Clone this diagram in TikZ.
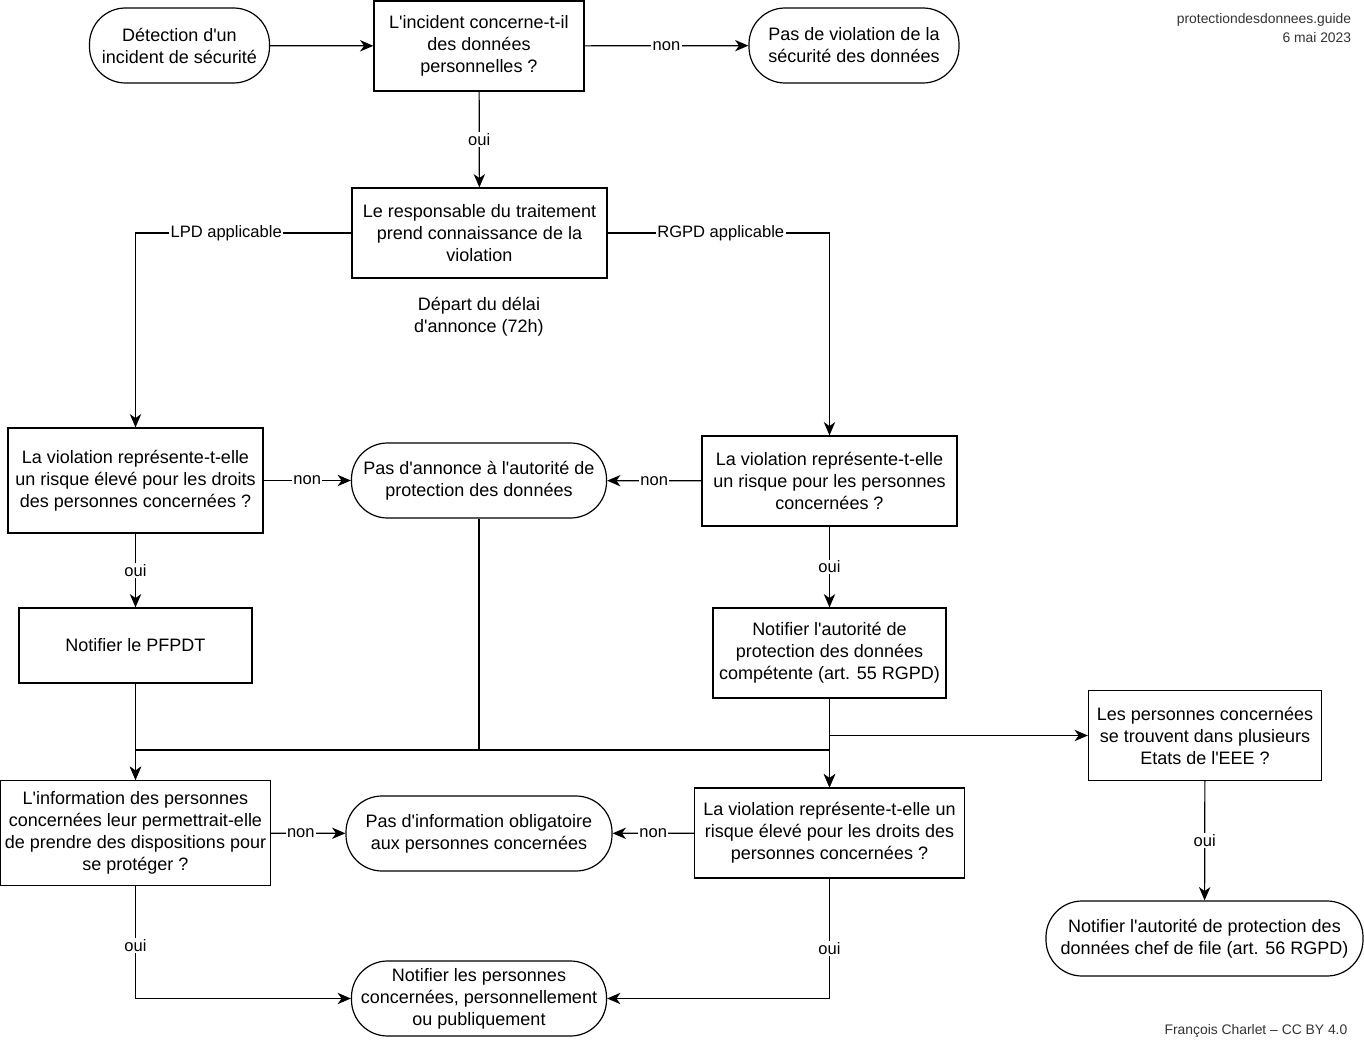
\documentclass[tikz,border=0pt]{standalone}
\usepackage{fontspec}
\setmainfont{Liberation Sans}[Ligatures=TeXOff]
\usetikzlibrary{arrows.meta}
\begin{document}
\begin{tikzpicture}[x=0.75pt,y=-0.75pt,
  base/.style={draw, line width=0.9pt, align=center, inner sep=0pt, font=\fontsize{13.5}{16.5}\selectfont},
  proc/.style={base, rectangle},
  term/.style={base, rectangle, rounded corners=27pt},
  lbl/.style={fill=white, inner sep=1pt, font=\fontsize{12.4}{14}\selectfont},
  arr/.style={line width=0.9pt, -{Stealth[length=10pt,width=8.5pt,inset=3pt]}},
  conn/.style={line width=0.9pt},
  note/.style={align=right, text=black!80, font=\fontsize{10.4}{14.5}\selectfont}]
\useasboundingbox (0,0) rectangle (1364,1049);

% nodes
\node[term, minimum width=135pt, minimum height=56.25pt] (det) at (179.5,45.5) {Détection d'un\\incident de sécurité};
\node[proc, minimum width=157.5pt, minimum height=67.5pt] (q1) at (479,46) {L'incident concerne-t-il\\des données\\personnelles ?};
\node[term, minimum width=157.5pt, minimum height=56.25pt] (nov) at (854,45.5) {Pas de violation de la\\sécurité des données};
\node[proc, minimum width=191.25pt, minimum height=67.5pt] (resp) at (479.5,233) {Le responsable du traitement\\prend connaissance de la\\violation};
\node[align=center, font=\fontsize{13.5}{16.5}\selectfont] (dep) at (479,317) {Départ du délai\\d'annonce (72h)};
\node[proc, minimum width=191.25pt, minimum height=78.75pt] (q2) at (135.5,480.5) {La violation représente-t-elle\\un risque élevé pour les droits\\des personnes concernées ?};
\node[term, minimum width=191.25pt, minimum height=56.25pt] (noann) at (479,480.5) {Pas d'annonce à l'autorité de\\protection des données};
\node[proc, minimum width=191.25pt, minimum height=67.5pt] (q3) at (829.5,481) {La violation représente-t-elle\\un risque pour les personnes\\concernées ?};
\node[proc, minimum width=174.75pt, minimum height=56.25pt] (pfpdt) at (135.5,645.5) {Notifier le PFPDT};
\node[proc, minimum width=174.75pt, minimum height=67.5pt] (notaut) at (829.5,653) {Notifier l'autorité de\\protection des données\\compétente (art. 55 RGPD)};
\node[proc, minimum width=174.75pt, minimum height=67.5pt] (eee) at (1205,735.5) {Les personnes concernées\\se trouvent dans plusieurs\\Etats de l'EEE ?};
\node[proc, minimum width=202.5pt, minimum height=78.75pt] (q4) at (135.5,833) {L'information des personnes\\concernées leur permettrait-elle\\de prendre des dispositions pour\\se protéger ?};
\node[term, minimum width=199.5pt, minimum height=56.25pt] (noinfo) at (479,833.5) {Pas d'information obligatoire\\aux personnes concernées};
\node[proc, minimum width=202.5pt, minimum height=67.5pt] (q5) at (829.5,833) {La violation représente-t-elle un\\risque élevé pour les droits des\\personnes concernées ?};
\node[term, minimum width=191.25pt, minimum height=56.25pt] (notpers) at (479,998.5) {Notifier les personnes\\concernées, personnellement\\ou publiquement};
\node[term, minimum width=237.75pt, minimum height=56.25pt] (chef) at (1204.5,938.5) {Notifier l'autorité de protection des\\données chef de file (art. 56 RGPD)};

\node[note] (hdr) at (1264,28) {protectiondesdonnees.guide\\6 mai 2023};
\node[note, anchor=east] (ftr) at (1352,1031) {François Charlet – CC BY 4.0};

% junctions
\coordinate (j1) at (479,750);

% connectors
\draw[arr] (det) -- (q1);
\draw[arr] (q1) -- node[lbl] {non} (nov);
\draw[arr] (q1) -- node[lbl] {oui} (resp);
\draw[arr] (resp.west) -| node[lbl, pos=0.29] {LPD applicable} (q2.north);
\draw[arr] (resp.east) -| node[lbl, pos=0.255] {RGPD applicable} (q3.north);
\draw[arr] (q2) -- node[lbl] {non} (noann);
\draw[arr] (q3) -- node[lbl] {non} (noann);
\draw[arr] (q2) -- node[lbl] {oui} (pfpdt);
\draw[arr] (q3) -- node[lbl] {oui} (notaut);
\draw[arr] (pfpdt) -- (q4);
\draw[arr] (noann.south) -- (j1) -| (q4.north);
\draw[arr] (j1) -| (q5.north);
\draw[arr] (notaut) -- (q5);
\draw[arr] (notaut.south) |- (eee.west);
\draw[arr] (q4) -- node[lbl, pos=0.4] {non} (noinfo);
\draw[arr] (q5) -- node[lbl] {non} (noinfo);
\draw[arr] (q4.south) |- node[lbl, pos=0.265] {oui} (notpers.west);
\draw[arr] (q5.south) |- node[lbl, pos=0.29] {oui} (notpers.east);
\draw[arr] (eee) -- node[lbl] {oui} (chef);
\end{tikzpicture}
\end{document}
